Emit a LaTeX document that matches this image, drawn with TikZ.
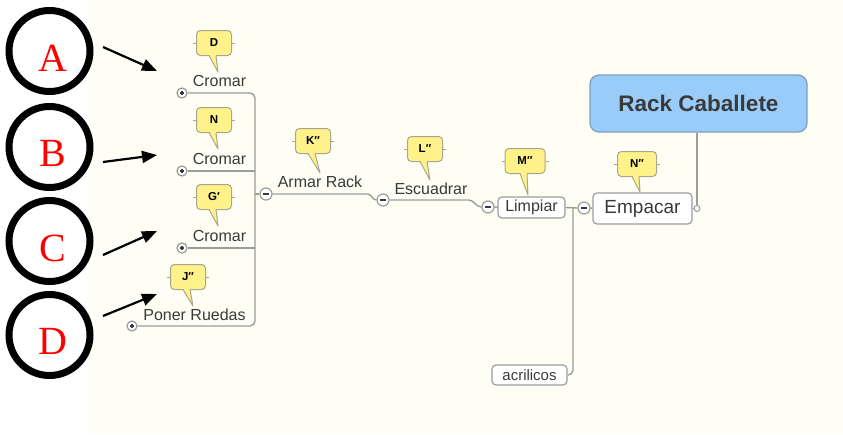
\documentclass[tikz,border=0pt]{standalone}
\usepackage{fontspec}
\setmainfont{Liberation Sans}
\newfontfamily\serifletter{Liberation Serif}
\usetikzlibrary{arrows.meta,calc}

\definecolor{cream}{HTML}{FEFEF4}
\definecolor{linkgray}{HTML}{9C9C9C}
\definecolor{inkgray}{HTML}{3A3A3A}
\definecolor{tagyellow}{HTML}{FFF28A}
\definecolor{tagedge}{HTML}{A8A78E}
\definecolor{rackblue}{HTML}{9ACCFA}
\definecolor{rackedge}{HTML}{7F9FBF}

% callout tail: from the bottom of tag #1 to the point #2
\newcommand\tagtail[2]{%
  \fill[tagyellow] ($(#1.south)+(-5,-2)$) -- (#2) -- ($(#1.south)+(2,-2)$) -- cycle;
  \draw[tagedge, line width=1pt, line join=round] ($(#1.south)+(-5,-0.5)$) -- (#2) -- ($(#1.south)+(2,-0.5)$);
  \draw[tagedge, line width=1pt] (#1.west) -- ++(-3,0) (#1.east) -- ++(3,0);
}

\begin{document}
\begin{tikzpicture}[x=1pt,y=-1pt,
  ring/.style={circle, draw=black, line width=7pt, minimum size=81pt, inner sep=0pt},
  letter/.style={font=\serifletter\fontsize{40}{40}\selectfont, text=red, inner sep=0pt},
  pointer/.style={draw=black, line width=2.2pt, -{Triangle[length=15pt,width=12pt]}},
  link/.style={draw=linkgray, line width=1.4pt},
  lbl/.style={font=\fontsize{16}{16}\selectfont, text=inkgray, inner sep=0pt},
  tagbox/.style={draw=tagedge, fill=tagyellow, rounded corners=4pt, line width=1pt,
    minimum width=35pt, minimum height=25pt, inner sep=0pt,
    font=\bfseries\fontsize{11.5}{11.5}\selectfont, text=black},
  taskbox/.style={draw=linkgray, fill=white, rounded corners=4pt, line width=1.2pt,
    inner sep=0pt, font=\fontsize{16}{16}\selectfont, text=inkgray},
  pluscirc/.style={circle, draw=linkgray, fill=white, line width=1.2pt, minimum size=10pt,
    inner sep=0pt, path picture={
      \draw[inkgray, line width=1.2pt]
        ([xshift=-2.2pt]path picture bounding box.center) -- ([xshift=2.2pt]path picture bounding box.center)
        ([yshift=-2.2pt]path picture bounding box.center) -- ([yshift=2.2pt]path picture bounding box.center);}},
  minuscirc/.style={circle, draw=linkgray, fill=white, line width=1.2pt, minimum size=12pt,
    inner sep=0pt, path picture={
      \draw[inkgray, line width=1.6pt]
        ([xshift=-3pt]path picture bounding box.center) -- ([xshift=3pt]path picture bounding box.center);}},
]
\useasboundingbox (0,0) rectangle (843,434);
\fill[white] (0,0) rectangle (843,434);
\fill[cream] (88,0) rectangle (843,434);

% lettered circles and their pointers
\node[ring] (cA) at (49.5,51) {};
\node[ring] (cB) at (49.5,147) {};
\node[ring] (cC) at (49.5,241) {};
\node[ring] (cD) at (49.5,335) {};
\node[letter] (lA) at (53,58) {A};
\node[letter] (lB) at (53,153) {B};
\node[letter] (lC) at (53,248) {C};
\node[letter] (lD) at (53,341) {D};

\coordinate (aA0) at (103,47);  \coordinate (aA1) at (157,71);
\coordinate (aB0) at (103,162); \coordinate (aB1) at (157,155);
\coordinate (aC0) at (103,255); \coordinate (aC1) at (157,231);
\coordinate (aD0) at (103,316); \coordinate (aD1) at (157,294);
\draw[pointer] (aA0) -- (aA1);
\draw[pointer] (aB0) -- (aB1);
\draw[pointer] (aC0) -- (aC1);
\draw[pointer] (aD0) -- (aD1);

% root topic
\node[draw=rackedge, fill=rackblue, rounded corners=9pt, line width=1.3pt,
  minimum width=217pt, minimum height=57pt, inner sep=0pt,
  font=\bfseries\fontsize{22.5}{22.5}\selectfont, text=inkgray] (rack) at (698.5,103.5) {Rack Caballete};

% expand / collapse markers
\node[pluscirc] (p1) at (182,93) {};
\node[pluscirc] (p2) at (182,171) {};
\node[pluscirc] (p3) at (182,248) {};
\node[pluscirc] (p4) at (132,326) {};
\node[minuscirc] (m1) at (266,194) {};
\node[minuscirc] (m2) at (383,200) {};
\node[minuscirc] (m3) at (488,207) {};
\node[minuscirc] (m4) at (584,208) {};

% topic labels
\node[lbl] (c1) at (219.5,81) {Cromar};
\node[lbl] (c2) at (219.5,159) {Cromar};
\node[lbl] (c3) at (219.5,236) {Cromar};
\node[lbl] (pr) at (194.5,315) {Poner Ruedas};
\node[lbl] (ar) at (320,182) {Armar Rack};
\node[lbl] (es) at (431,189) {Escuadrar};
\node[taskbox, minimum width=67pt, minimum height=21pt] (lim) at (531.5,207.5) {Limpiar};
\node[taskbox, minimum width=99pt, minimum height=31pt, font=\fontsize{19}{19}\selectfont] (emp) at (642.5,208.5) {Empacar};
\node[taskbox, minimum width=75pt, minimum height=20pt, font=\fontsize{15}{15}\selectfont] (acr) at (529.5,375) {acrilicos};
\node[circle, draw=linkgray, fill=white, line width=1pt, minimum size=6pt, inner sep=0pt] (endc) at (697,208.5) {};

% branch lines
\coordinate (spineTop) at (255,93);
\coordinate (spineBot) at (255,326);
\draw[link, rounded corners=5pt] (p1) -- (spineTop) -- (spineBot) -- (p4);
\draw[link] (p2) -- (p2 -| spineTop);
\draw[link] (p3) -- (p3 -| spineTop);
\draw[link] (m1 -| spineTop) -- (m1);
\draw[link] (m1.east) -- ++(95,0) to[out=0,in=180] (m2.west);
\draw[link] (m2.east) -- ++(79,0) to[out=0,in=180] (m3.west);
\draw[link] (m3) -- (lim);
\draw[link] (lim.east) -- (m4.west);
\coordinate (fork) at (573,207.5);
\draw[link, rounded corners=5pt] (fork) |- (acr.east);
\draw[link] (m4) -- (emp);
\draw[link] (emp) -- (endc);
\draw[link] (endc) -- (endc |- rack.south);

% callouts
\node[tagbox] (tD) at (214,43) {D};
\node[tagbox] (tN) at (214,120) {N};
\node[tagbox] (tG) at (214,197) {G′};
\node[tagbox] (tJ) at (188,277) {J″};
\node[tagbox] (tK) at (313,141) {K″};
\node[tagbox] (tL) at (425,149) {L″};
\node[tagbox, minimum width=40pt] (tM) at (525,161) {M″};
\node[tagbox, minimum width=39pt] (tN2) at (637,164) {N″};

\coordinate (kD) at (218,72);
\coordinate (kN) at (218,149);
\coordinate (kG) at (218,226);
\coordinate (kJ) at (193,306);
\coordinate (kK) at (320,173);
\coordinate (kL) at (430,180);
\coordinate (kM) at (528,195);
\coordinate (kN2) at (640,192);
\tagtail{tD}{kD}
\tagtail{tN}{kN}
\tagtail{tG}{kG}
\tagtail{tJ}{kJ}
\tagtail{tK}{kK}
\tagtail{tL}{kL}
\tagtail{tM}{kM}
\tagtail{tN2}{kN2}
\end{tikzpicture}
\end{document}
